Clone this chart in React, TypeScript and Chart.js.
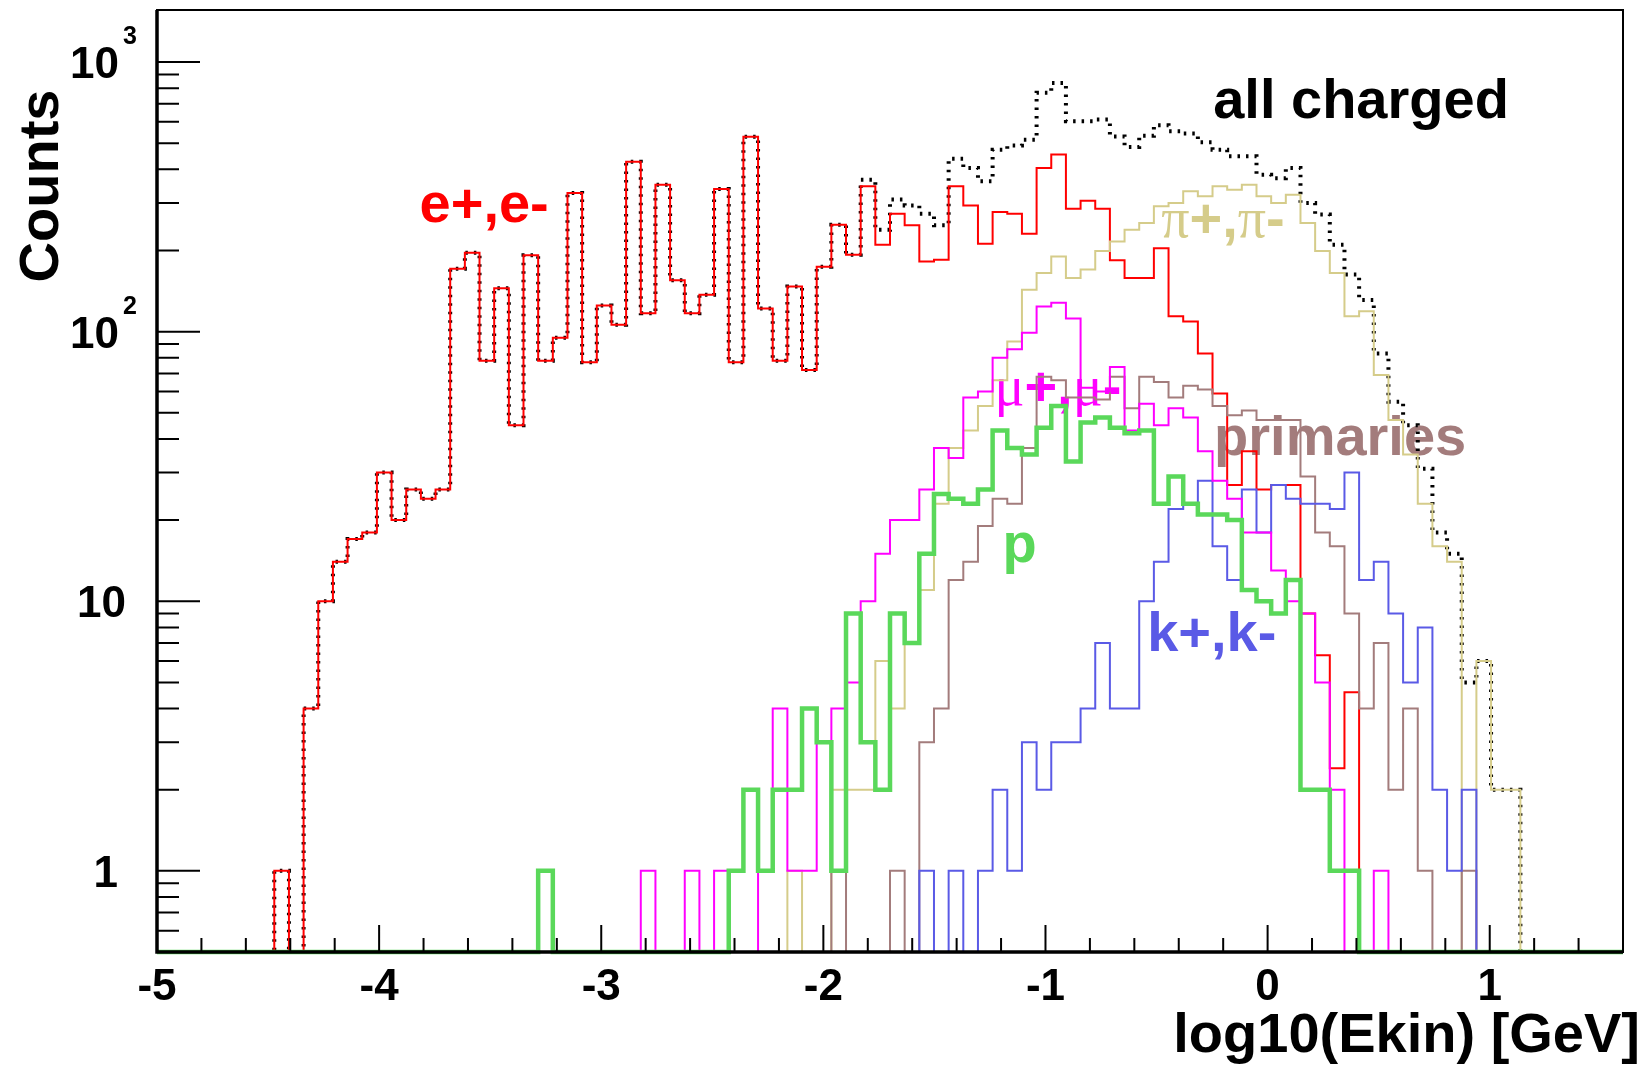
import React, { useEffect, useRef } from "react";
import { Chart, registerables } from "chart.js";

Chart.register(...registerables);

const WIDTH = 1652;
const HEIGHT = 1068;

// Histogram range: 100 bins in log10(Ekin / GeV)
const X_MIN = -5;
const X_MAX = 1.6;
const Y_MIN = 0.5;
const Y_MAX = 1560;

const xTickValues = [-5, -4, -3, -2, -1, 0, 1];
const xTickLabels = ["-5", "-4", "-3", "-2", "-1", "0", "1"];
const yTickValues = [1, 10, 100, 1000];
const yTickBases = ["1", "10", "10", "10"];
const yTickExponents = ["", "", "2", "3"];

// Counts per bin
const allCharged = [
  0, 0, 0, 0, 0, 0, 0, 0, 1, 0,
  4, 10, 14, 17, 18, 30, 20, 26, 24, 26,
  171, 196, 78, 145, 45, 192, 78, 95, 327, 77,
  125, 106, 427, 117, 351, 155, 117, 137, 338, 77,
  528, 122, 78, 147, 72, 174, 249, 193, 366, 239,
  309, 294, 274, 248, 438, 405, 361, 473, 490, 515,
  769, 837, 603, 603, 612, 530, 484, 533, 583, 554,
  543, 504, 473, 447, 447, 382, 371, 405, 300, 272,
  210, 163, 131, 83, 55, 45, 31, 18, 15, 5,
  6, 2, 2, 0, 0, 0, 0, 0, 0, 0,
];

const electrons = [
  0, 0, 0, 0, 0, 0, 0, 0, 1, 0,
  4, 10, 14, 17, 18, 30, 20, 26, 24, 26,
  171, 196, 78, 145, 45, 192, 78, 95, 327, 77,
  125, 106, 427, 117, 351, 155, 117, 137, 338, 77,
  528, 122, 78, 147, 72, 174, 249, 193, 346, 210,
  274, 248, 182, 185, 346, 294, 212, 278, 274, 231,
  405, 454, 286, 306, 286, 184, 158, 158, 204, 114,
  109, 83, 59, 27, 36, 26, 27, 27, 9, 6.3,
  2.4, 4.6, 0, 0, 0, 0, 0, 0, 0, 0,
  0, 0, 0, 0, 0, 0, 0, 0, 0, 0,
];

const pions = [
  0, 0, 0, 0, 0, 0, 0, 0, 0, 0,
  0, 0, 0, 0, 0, 0, 0, 0, 0, 0,
  0, 0, 0, 0, 0, 0, 0, 0, 0, 0,
  0, 0, 0, 0, 0, 0, 0, 0, 0, 0,
  0, 0, 0, 1, 0, 0, 2, 2, 2, 6,
  4, 7, 11, 23, 37, 43, 53, 66, 92, 143,
  165, 190, 158, 170, 199, 216, 239, 253, 292, 300,
  332, 318, 346, 336, 351, 318, 300, 322, 253, 199,
  165, 114, 119, 69, 47, 35, 23, 16, 14, 0,
  6, 2, 2, 0, 0, 0, 0, 0, 0, 0,
];

const muons = [
  0, 0, 0, 0, 0, 0, 0, 0, 0, 0,
  0, 0, 0, 0, 0, 0, 0, 0, 0, 0,
  0, 0, 0, 0, 0, 0, 0, 0, 0, 0,
  0, 0, 0, 1, 0, 0, 1, 0, 1, 0,
  0, 1, 4, 1, 1, 3, 4, 5, 10, 15,
  20, 20, 26, 37, 34, 57, 60, 80, 86, 99,
  124, 128, 112, 62, 60, 74, 43, 54, 45, 52,
  48, 36, 28, 24, 18, 18, 13, 10, 9, 5,
  2, 0, 0, 1, 0, 0, 0, 0, 0, 0,
  0, 0, 0, 0, 0, 0, 0, 0, 0, 0,
];

const protons = [
  0, 0, 0, 0, 0, 0, 0, 0, 0, 0,
  0, 0, 0, 0, 0, 0, 0, 0, 0, 0,
  0, 0, 0, 0, 0, 0, 1, 0, 0, 0,
  0, 0, 0, 0, 0, 0, 0, 0, 0, 1,
  2, 1, 2, 2, 4, 3, 1, 9, 3, 2,
  9, 7, 15, 25, 24, 23, 26, 43, 37, 35,
  44, 53, 33, 46, 48, 44, 42, 43, 23, 29,
  23, 21, 21, 20, 11, 10, 9, 12, 2, 2,
  1, 1, 0, 0, 0, 0, 0, 0, 0, 0,
  0, 0, 0, 0, 0, 0, 0, 0, 0, 0,
];

const kaons = [
  0, 0, 0, 0, 0, 0, 0, 0, 0, 0,
  0, 0, 0, 0, 0, 0, 0, 0, 0, 0,
  0, 0, 0, 0, 0, 0, 0, 0, 0, 0,
  0, 0, 0, 0, 0, 0, 0, 0, 0, 0,
  0, 0, 0, 0, 0, 0, 0, 0, 0, 0,
  0, 0, 1, 0, 1, 0, 1, 2, 1, 3,
  2, 3, 3, 4, 7, 4, 4, 10, 14, 22,
  23, 28, 16, 12, 26, 18, 27, 24, 23, 23,
  22, 30, 12, 14, 9, 5, 8, 2, 1, 2,
  0, 0, 0, 0, 0, 0, 0, 0, 0, 0,
];

const primaries = [
  0, 0, 0, 0, 0, 0, 0, 0, 0, 0,
  0, 0, 0, 0, 0, 0, 0, 0, 0, 0,
  0, 0, 0, 0, 0, 0, 0, 0, 0, 0,
  0, 0, 0, 0, 0, 0, 0, 0, 0, 0,
  0, 0, 0, 0, 0, 0, 1, 0, 0, 0,
  1, 0, 3, 4, 12, 14, 19, 24, 23, 37,
  68, 66, 57, 57, 56, 68, 52, 68, 65, 57,
  63, 61, 53, 49, 51, 47, 47, 47, 29, 18,
  16, 9, 4, 7, 2, 4, 1, 0, 0, 1,
  0, 0, 0, 0, 0, 0, 0, 0, 0, 0,
];

const SANS = '"Liberation Sans", Arial, Helvetica, sans-serif';
const SERIF = '"Liberation Serif", "DejaVu Serif", "Times New Roman", serif';

const COLORS = {
  all: "#000000",
  e: "#ff0000",
  pi: "#d5cc8a",
  prim: "#a37c7c",
  k: "#5a5ae6",
  mu: "#ff00ff",
  p: "#5ad85a",
};

type Segment = { t: string; serif?: boolean };
type PlotLabel = { segs: Segment[]; x: number; y: number; color: string };

// Annotations placed in data coordinates (left edge, baseline)
const plotLabels: PlotLabel[] = [
  { segs: [{ t: "all charged" }], x: -0.245, y: 622, color: COLORS.all },
  { segs: [{ t: "e+,e-" }], x: -3.818, y: 256, color: COLORS.e },
  {
    segs: [{ t: "\u03c0", serif: true }, { t: "+," }, { t: "\u03c0", serif: true }, { t: "-" }],
    x: -0.479,
    y: 225,
    color: COLORS.pi,
  },
  {
    segs: [{ t: "\u03bc", serif: true }, { t: "+," }, { t: "\u03bc", serif: true }, { t: "-" }],
    x: -1.23,
    y: 53.6,
    color: COLORS.mu,
  },
  { segs: [{ t: "primaries" }], x: -0.241, y: 35, color: COLORS.prim },
  { segs: [{ t: "p" }], x: -1.194, y: 14.0, color: COLORS.p },
  { segs: [{ t: "k+,k-" }], x: -0.542, y: 6.55, color: COLORS.k },
];

function histogramPoints(counts: number[]) {
  const w = (X_MAX - X_MIN) / counts.length;
  const pts = counts.map((c, i) => ({ x: X_MIN + i * w, y: c > 0 ? c : Y_MIN }));
  const last = counts[counts.length - 1];
  pts.push({ x: X_MAX, y: last > 0 ? last : Y_MIN });
  return pts;
}

function drawSegments(ctx: CanvasRenderingContext2D, segs: Segment[], px: number, py: number, size: number) {
  let cx = px;
  for (const s of segs) {
    ctx.font = s.serif ? `${size}px ${SERIF}` : `bold ${size}px ${SANS}`;
    ctx.fillText(s.t, cx, py);
    cx += ctx.measureText(s.t).width;
  }
}

const rootFrame = {
  id: "rootFrame",
  beforeDatasetsDraw(chart: any) {
    const { ctx, scales } = chart;
    ctx.save();
    ctx.textAlign = "left";
    ctx.textBaseline = "alphabetic";
    for (const lab of plotLabels) {
      ctx.fillStyle = lab.color;
      drawSegments(ctx, lab.segs, scales.x.getPixelForValue(lab.x), scales.y.getPixelForValue(lab.y), 56);
    }
    ctx.restore();
  },
  afterDatasetsDraw(chart: any) {
    const { ctx, chartArea: a, scales } = chart;
    const xs = scales.x;
    const ys = scales.y;
    ctx.save();
    ctx.strokeStyle = "#000";
    ctx.fillStyle = "#000";

    // x ticks: majors every decade, minors every 0.2
    ctx.lineWidth = 2;
    ctx.beginPath();
    for (let i = 0; i <= 33; i++) {
      const v = X_MIN + i * 0.2;
      const px = xs.getPixelForValue(v);
      const major = Math.abs(v - Math.round(v)) < 1e-6;
      const len = major ? 27 : 14;
      ctx.moveTo(px, a.bottom);
      ctx.lineTo(px, a.bottom - len);
    }
    // y ticks on the log axis
    for (let d = -1; d <= 3; d++) {
      for (let m = 1; m <= 9; m++) {
        const v = m * Math.pow(10, d);
        if (v < Y_MIN || v > Y_MAX) continue;
        const py = ys.getPixelForValue(v);
        const len = m === 1 ? 43 : 22;
        ctx.moveTo(a.left, py);
        ctx.lineTo(a.left + len, py);
      }
    }
    ctx.stroke();

    // frame
    ctx.lineWidth = 2;
    ctx.strokeRect(a.left, a.top, a.right - a.left, a.bottom - a.top);
    ctx.lineWidth = 3.5;
    ctx.beginPath();
    ctx.moveTo(a.left, a.top);
    ctx.lineTo(a.left, a.bottom);
    ctx.lineTo(a.right, a.bottom);
    ctx.stroke();

    // x tick labels
    ctx.font = `bold 44px ${SANS}`;
    ctx.textAlign = "center";
    ctx.textBaseline = "alphabetic";
    xTickValues.forEach((v, i) => {
      ctx.fillText(xTickLabels[i], xs.getPixelForValue(v), a.bottom + 48);
    });

    // y tick labels (10 with superscript exponents)
    yTickValues.forEach((v, i) => {
      const py = ys.getPixelForValue(v);
      const exp = yTickExponents[i];
      ctx.font = `bold 44px ${SANS}`;
      ctx.textAlign = "right";
      if (exp) {
        ctx.fillText(yTickBases[i], 119, py + 16);
        ctx.font = `bold 25px ${SANS}`;
        ctx.textAlign = "left";
        ctx.fillText(exp, 123, py - 18);
      } else {
        ctx.fillText(yTickBases[i], yTickBases[i].length > 1 ? 126 : 118, py + 16);
      }
    });

    // axis titles
    ctx.font = `bold 56px ${SANS}`;
    ctx.textAlign = "right";
    ctx.fillText("log10(Ekin) [GeV]", a.right + 17, a.bottom + 100);
    ctx.save();
    ctx.translate(58, 186);
    ctx.rotate(-Math.PI / 2);
    ctx.textAlign = "center";
    ctx.fillText("Counts", 0, 0);
    ctx.restore();

    ctx.restore();
  },
};

const series = [
  { label: "all charged", data: allCharged, color: COLORS.all, width: 4, dash: [2.5, 6], order: 8 },
  { label: "e+,e-", data: electrons, color: COLORS.e, width: 2, dash: [], order: 7 },
  { label: "pi+,pi-", data: pions, color: COLORS.pi, width: 2, dash: [], order: 6 },
  { label: "primaries", data: primaries, color: COLORS.prim, width: 2, dash: [], order: 5 },
  { label: "k+,k-", data: kaons, color: COLORS.k, width: 2, dash: [], order: 4 },
  { label: "mu+,mu-", data: muons, color: COLORS.mu, width: 2, dash: [], order: 3 },
  { label: "p", data: protons, color: COLORS.p, width: 4.5, dash: [], order: 2 },
];

export default function App() {
  const canvasRef = useRef<HTMLCanvasElement | null>(null);

  useEffect(() => {
    const canvas = canvasRef.current;
    if (!canvas) return;
    const chart = new Chart(canvas, {
      type: "line",
      data: {
        datasets: series.map((s) => ({
          label: s.label,
          data: histogramPoints(s.data),
          borderColor: s.color,
          borderWidth: s.width,
          borderDash: s.dash,
          borderCapStyle: "butt",
          borderJoinStyle: "miter",
          stepped: true,
          pointRadius: 0,
          fill: false,
          tension: 0,
          order: s.order,
          clip: 4,
        })),
      },
      options: {
        responsive: false,
        animation: false,
        devicePixelRatio: 1,
        events: [],
        parsing: false as any,
        layout: { padding: { left: 157, right: WIDTH - 1623, top: 10, bottom: HEIGHT - 952 } },
        plugins: { legend: { display: false }, tooltip: { enabled: false } },
        scales: {
          x: { type: "linear", min: X_MIN, max: X_MAX, display: false },
          y: { type: "logarithmic", min: Y_MIN, max: Y_MAX, display: false },
        },
      },
      plugins: [rootFrame],
    });
    return () => chart.destroy();
  }, []);

  return (
    <div style={{ position: "fixed", left: 0, top: 0, width: WIDTH, height: HEIGHT, background: "#fff" }}>
      <canvas ref={canvasRef} width={WIDTH} height={HEIGHT} />
    </div>
  );
}
